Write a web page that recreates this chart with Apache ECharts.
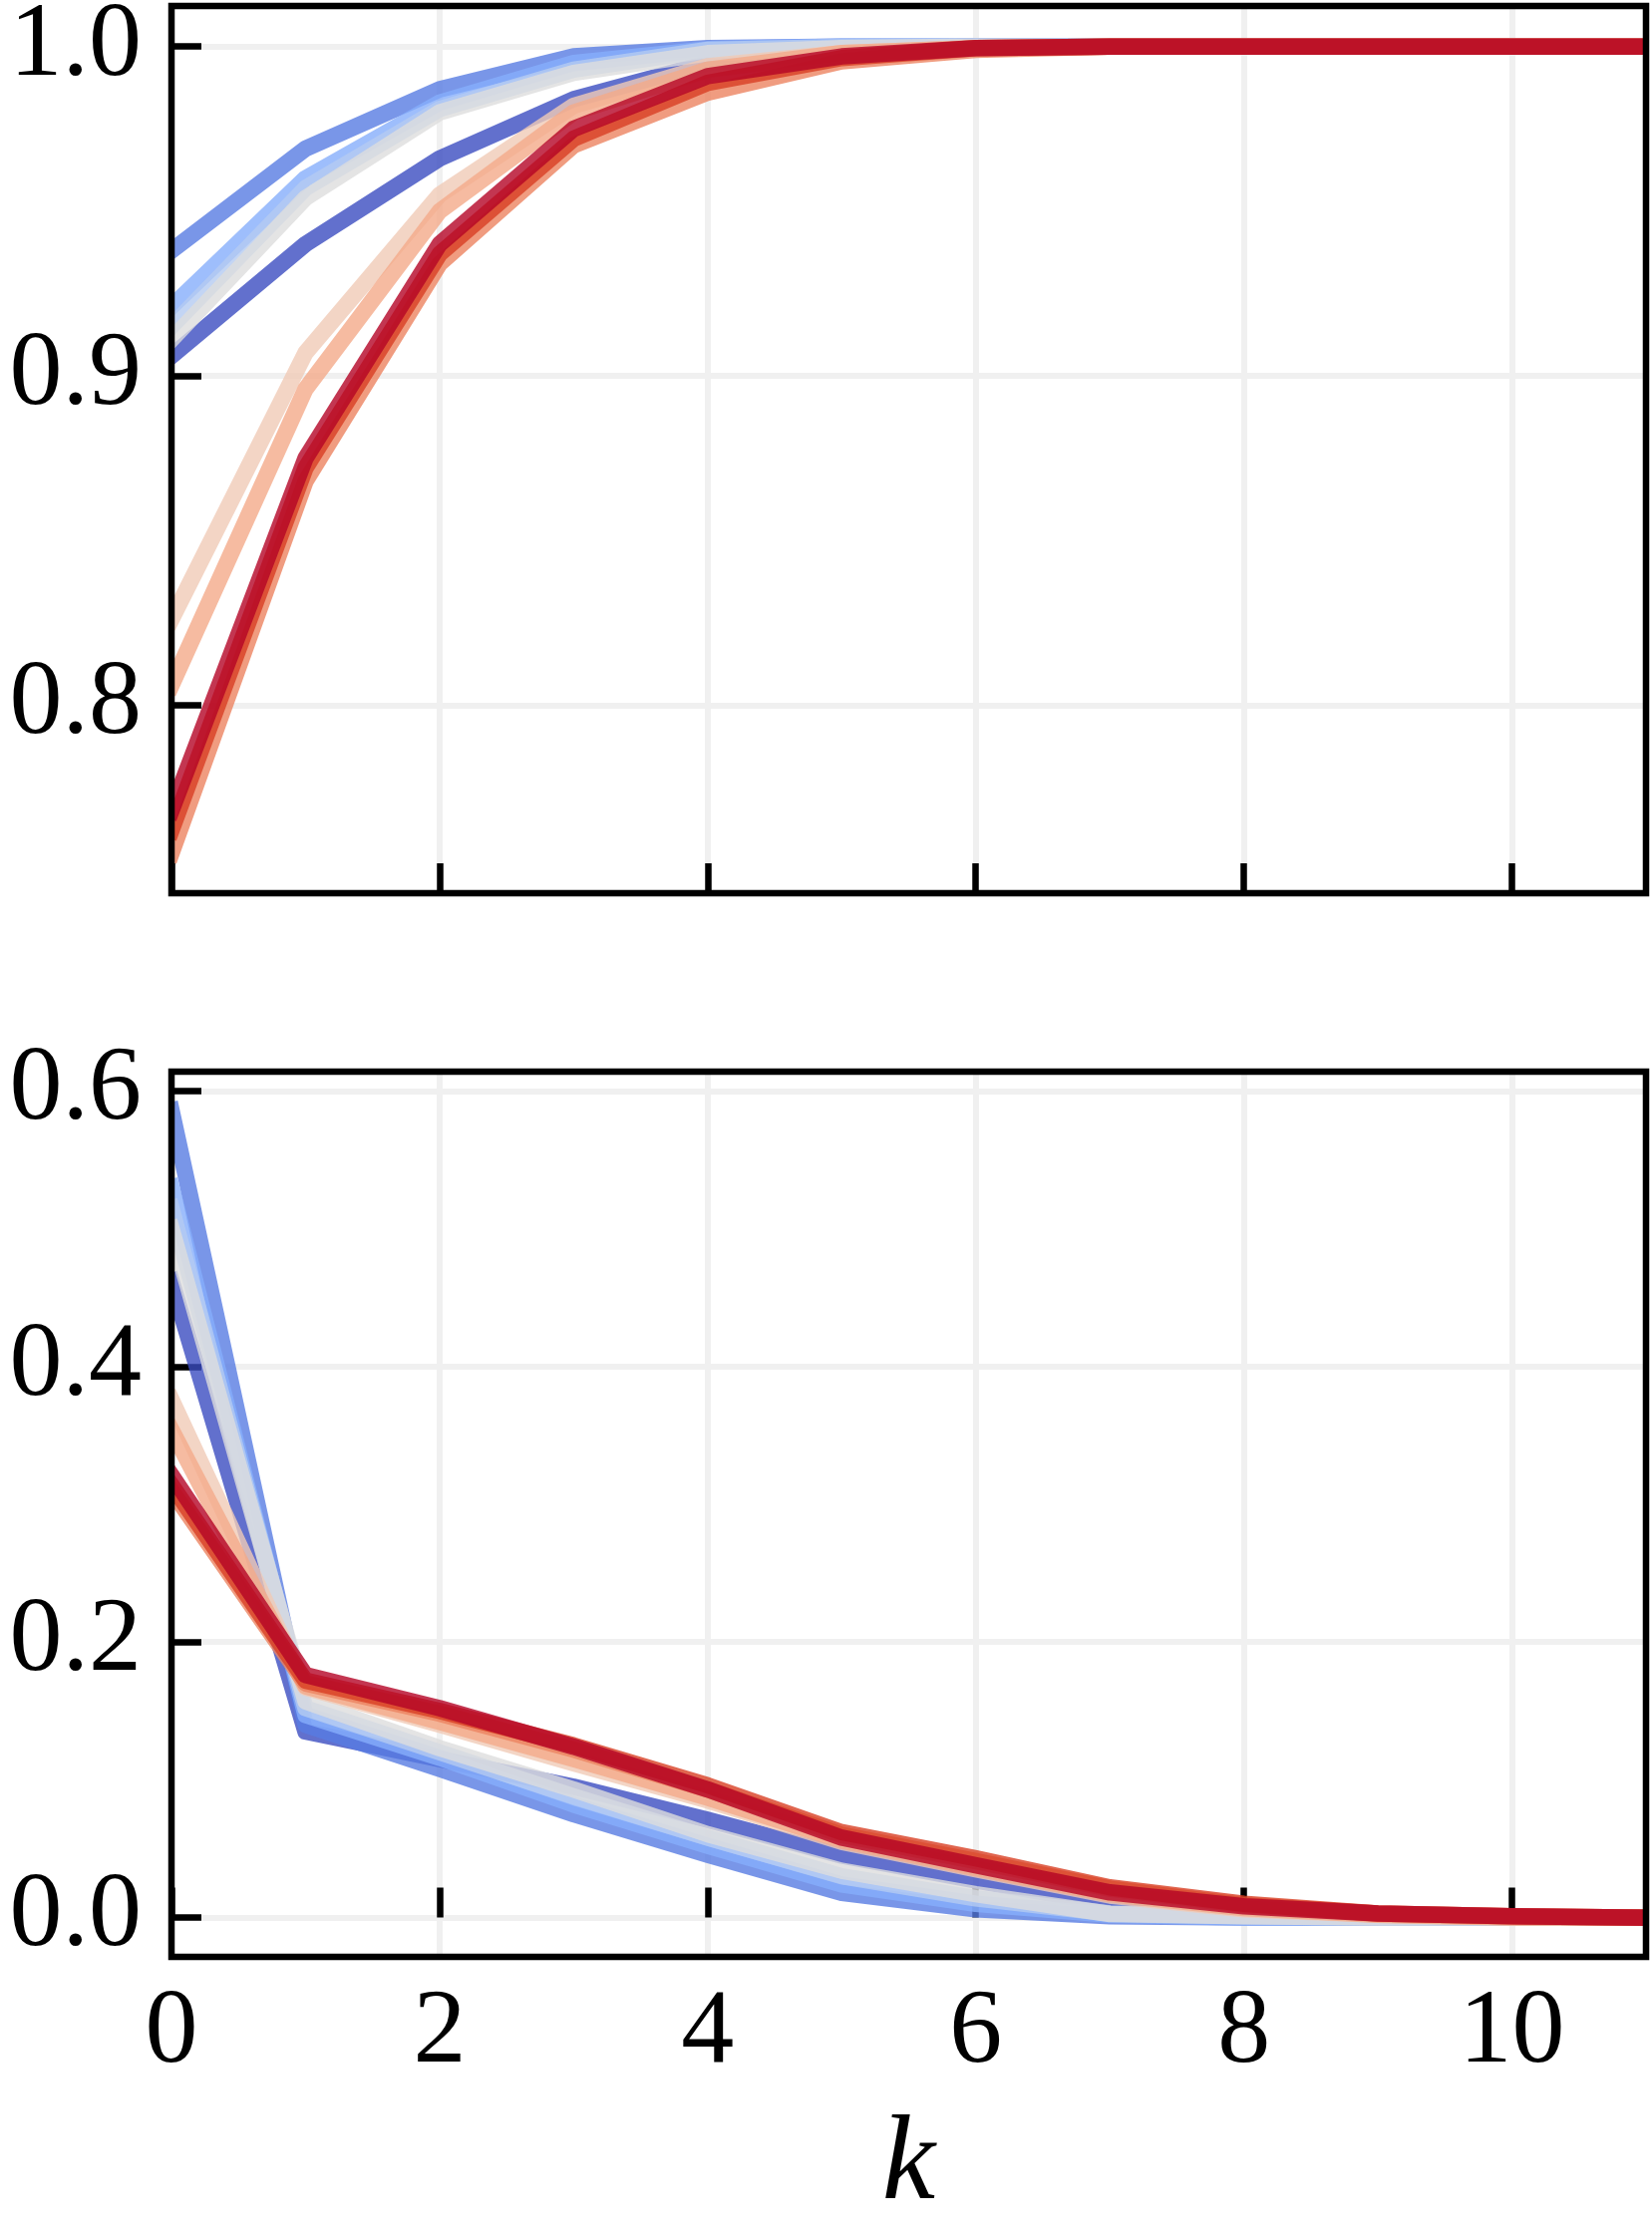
<!DOCTYPE html>
<html>
<head>
<meta charset="utf-8">
<script src="https://cdn.jsdelivr.net/npm/echarts@6/dist/echarts.min.js"></script>
<style>
html,body{margin:0;padding:0;background:#fff;}
#chart{width:1657px;height:2242px;}
</style>
</head>
<body>
<div id="chart"></div>
<script>
// ---------- data ----------
const kValues = [0, 1, 2, 3, 4, 5, 6, 7, 8, 9, 10, 11];
const xTickLabels = [0, 2, 4, 6, 8, 10];
const topYTicks = [0.8, 0.9, 1.0];
const bottomYTicks = [0.0, 0.2, 0.4, 0.6];

// upper panel
const top0 = [0.906, 0.940, 0.966, 0.984, 0.995, 0.999, 1.0, 1.0, 1.0, 1.0, 1.0, 1.0];
const top1 = [0.938, 0.969, 0.987, 0.997, 0.9995, 1.0, 1.0, 1.0, 1.0, 1.0, 1.0, 1.0];
const top2 = [0.921, 0.960, 0.983, 0.995, 0.9992, 1.0, 1.0, 1.0, 1.0, 1.0, 1.0, 1.0];
const top3 = [0.915, 0.957, 0.981, 0.993, 0.999, 0.9998, 1.0, 1.0, 1.0, 1.0, 1.0, 1.0];
const top4 = [0.911, 0.954, 0.980, 0.992, 0.998, 0.9995, 1.0, 1.0, 1.0, 1.0, 1.0, 1.0];
const top5 = [0.826, 0.907, 0.955, 0.982, 0.994, 0.998, 0.9995, 1.0, 1.0, 1.0, 1.0, 1.0];
const top6 = [0.806, 0.896, 0.950, 0.980, 0.993, 0.998, 0.9995, 1.0, 1.0, 1.0, 1.0, 1.0];
const top7 = [0.755, 0.868, 0.934, 0.970, 0.986, 0.9955, 0.999, 1.0, 1.0, 1.0, 1.0, 1.0];
const top8 = [0.762, 0.872, 0.937, 0.972, 0.989, 0.9965, 0.9995, 1.0, 1.0, 1.0, 1.0, 1.0];
const top9 = [0.768, 0.875, 0.940, 0.975, 0.991, 0.997, 0.9995, 1.0, 1.0, 1.0, 1.0, 1.0];

// lower panel
const bot0 = [0.462, 0.135, 0.115, 0.095, 0.071, 0.045, 0.027, 0.010, 0.003, 0.001, 0.0, 0.0];
const bot1 = [0.586, 0.140, 0.108, 0.075, 0.0455, 0.018, 0.006, 0.001, 0.0, 0.0, 0.0, 0.0];
const bot2 = [0.530, 0.147, 0.116, 0.082, 0.052, 0.024, 0.010, 0.002, 0.0, 0.0, 0.0, 0.0];
const bot3 = [0.515, 0.152, 0.120, 0.088, 0.058, 0.030, 0.014, 0.003, 0.001, 0.0, 0.0, 0.0];
const bot4 = [0.500, 0.157, 0.123, 0.093, 0.0605, 0.034, 0.017, 0.0026, 0.001, 0.0, 0.0, 0.0];
const bot5 = [0.376, 0.167, 0.140, 0.112, 0.085, 0.055, 0.035, 0.016, 0.006, 0.002, 0.0, 0.0];
const bot6 = [0.354, 0.168, 0.142, 0.115, 0.087, 0.056, 0.036, 0.017, 0.007, 0.002, 0.0, 0.0];
const bot7 = [0.310, 0.170, 0.148, 0.122, 0.093, 0.060, 0.041, 0.021, 0.009, 0.003, 0.001, 0.0];
const bot8 = [0.314, 0.172, 0.150, 0.125, 0.096, 0.062, 0.043, 0.022, 0.010, 0.003, 0.001, 0.0];
const bot9 = [0.321, 0.176, 0.152, 0.124, 0.093, 0.058, 0.038, 0.0183, 0.0082, 0.003, 0.001, 0.0];

const topSeries = [top0, top1, top2, top3, top4, top5, top6, top7, top8, top9];
const bottomSeries = [bot0, bot1, bot2, bot3, bot4, bot5, bot6, bot7, bot8, bot9];

// ---------- styles ----------
const lineColors = ['#3b4cc0', '#587ce2', '#86aefb', '#b4cbf1', '#dddddd',
                    '#f0cbb7', '#f4aa89', '#ec8360', '#d83f23', '#b40426'];
const FONT = '"Liberation Serif", "Times New Roman", Times, serif';
const SPINE = 6.5;
const GRIDC = '#f0f0f0';
const GL = 172, GR = 6, GT1 = 6, GH1 = 890, GT2 = 1075, GH2 = 888;

const chart = echarts.init(document.getElementById('chart'), null, {renderer: 'canvas'});

function xAxisDef(gridIndex, withLabels) {
  return {
    type: 'value', gridIndex: gridIndex, min: 0, max: 11, interval: 2, z: 1,
    axisLine: {show: false},
    axisTick: {show: true, inside: true, length: 30, lineStyle: {color: '#000', width: SPINE}},
    axisLabel: {
      show: withLabels, margin: 24, color: '#000', fontFamily: FONT, fontSize: 106,
      formatter: function (v) { return xTickLabels.indexOf(v) >= 0 ? String(v) : ''; }
    },
    splitLine: {show: true, lineStyle: {color: GRIDC, width: 6}},
    name: withLabels ? 'k' : '',
    nameLocation: 'middle', nameGap: 150,
    nameTextStyle: {color: '#000', fontFamily: FONT, fontSize: 120, fontStyle: 'italic'}
  };
}
function yAxisDef(gridIndex, min, max, ticks) {
  return {
    type: 'value', gridIndex: gridIndex, min: min, max: max, z: 1,
    axisLine: {show: false},
    axisTick: {show: true, inside: true, length: 30, customValues: ticks,
               lineStyle: {color: '#000', width: SPINE}},
    axisLabel: {show: true, margin: 30, color: '#000', fontFamily: FONT, fontSize: 106,
                customValues: ticks, formatter: function (v) { return v.toFixed(1); }},
    splitLine: {show: false}
  };
}

const series = [];
// horizontal grid lines (background, below the axis ticks)
[[0, topYTicks], [1, bottomYTicks]].forEach(function (p) {
  series.push({
    type: 'line', xAxisIndex: p[0], yAxisIndex: p[0], data: [], z: 0, silent: true,
    markLine: {silent: true, symbol: 'none', label: {show: false}, animation: false, z: 0,
      lineStyle: {color: GRIDC, width: 6, type: 'solid'},
      emphasis: {disabled: true},
      data: p[1].map(function (v) { return {yAxis: v}; })}
  });
});
function addLines(arrs, idx) {
  arrs.forEach(function (arr, i) {
    series.push({
      type: 'line', name: 'p' + i, xAxisIndex: idx, yAxisIndex: idx,
      data: kValues.map(function (kk, j) { return [kk, arr[j]]; }),
      showSymbol: false, symbol: 'none', clip: true, z: 2,
      lineStyle: {color: lineColors[i], width: 16.5, opacity: 0.8, cap: 'square', join: 'round'}
    });
  });
}
addLines(topSeries, 0);
addLines(bottomSeries, 1);

// white masks outside the plotting areas (lines are clipped at the frame in the original)
function masks() {
  const W = 1657;
  const out = [];
  [[GT1, GH1], [GT2, GH2]].forEach(function (g) {
    out.push({type: 'rect', z: 3, silent: true, shape: {x: GL - 30, y: g[0] - 30, width: 30, height: g[1] + 60}, style: {fill: '#fff'}});
    out.push({type: 'rect', z: 3, silent: true, shape: {x: W - GR, y: g[0] - 30, width: 30, height: g[1] + 60}, style: {fill: '#fff'}});
  });
  return out;
}

chart.setOption({
  animation: false,
  backgroundColor: '#fff',
  grid: [
    {left: GL, right: GR, top: GT1, height: GH1, show: true, borderColor: '#000', borderWidth: SPINE, z: 4,
     backgroundColor: 'transparent', containLabel: false, outerBoundsMode: 'none'},
    {left: GL, right: GR, top: GT2, height: GH2, show: true, borderColor: '#000', borderWidth: SPINE, z: 4,
     backgroundColor: 'transparent', containLabel: false, outerBoundsMode: 'none'}
  ],
  xAxis: [xAxisDef(0, false), xAxisDef(1, true)],
  yAxis: [yAxisDef(0, 0.74287, 1.01232, topYTicks), yAxisDef(1, -0.0285, 0.6140, bottomYTicks)],
  graphic: masks(),
  series: series
});
</script>
</body>
</html>
